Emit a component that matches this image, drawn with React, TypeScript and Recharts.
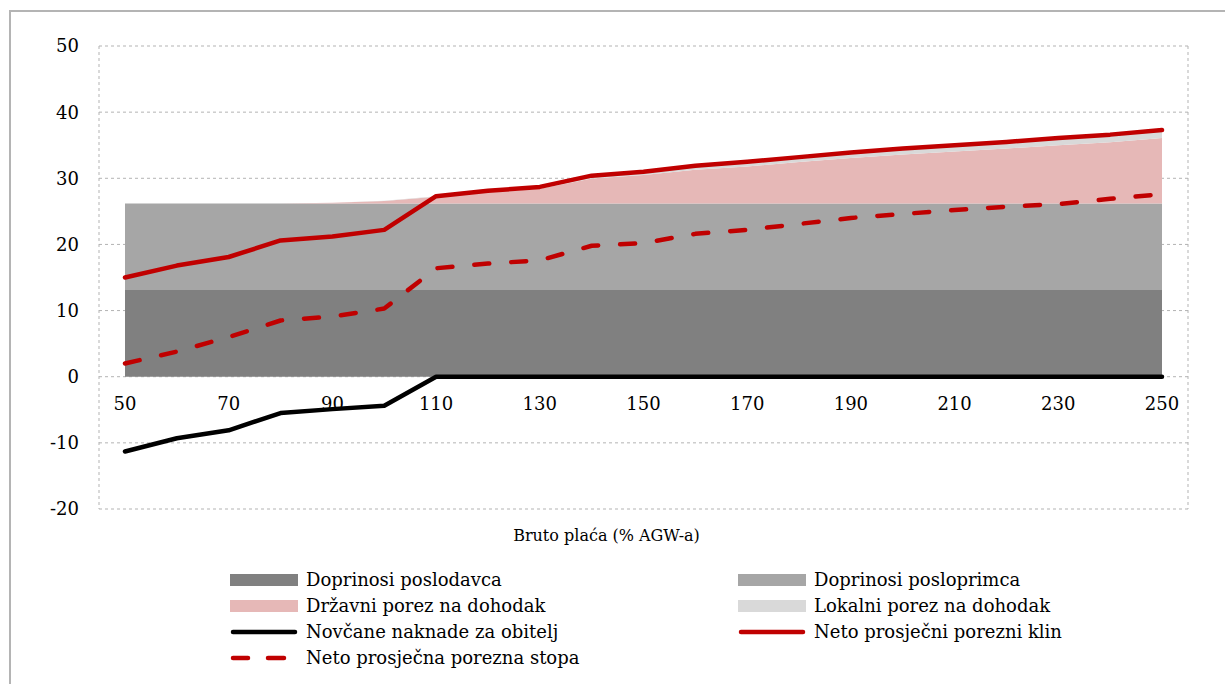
import React from 'react';
import {
  ComposedChart,
  Area,
  Line,
  XAxis,
  YAxis,
  CartesianGrid,
  Legend,
  ReferenceDot,
} from 'recharts';

// Bruto plaća (% AGW-a)
const grossWage = [50, 60, 70, 80, 90, 100, 110, 120, 130, 140, 150, 160, 170, 180, 190, 200, 210, 220, 230, 240, 250];
const employerContributions = [13.1, 13.1, 13.1, 13.1, 13.1, 13.1, 13.1, 13.1, 13.1, 13.1, 13.1, 13.1, 13.1, 13.1, 13.1, 13.1, 13.1, 13.1, 13.1, 13.1, 13.1];
const employeeContributions = [13.1, 13.1, 13.1, 13.1, 13.1, 13.1, 13.1, 13.1, 13.1, 13.1, 13.1, 13.1, 13.1, 13.1, 13.1, 13.1, 13.1, 13.1, 13.1, 13.1, 13.1];
const stateIncomeTax = [0, 0, 0, 0, 0.1, 0.35, 1.0, 1.7, 2.2, 3.75, 4.3, 5.1, 5.6, 6.25, 6.85, 7.4, 7.85, 8.3, 8.8, 9.25, 9.9];
const localIncomeTax = [0, 0, 0, 0, 0, 0.05, 0.1, 0.2, 0.3, 0.45, 0.5, 0.6, 0.7, 0.75, 0.85, 0.9, 0.95, 1.0, 1.1, 1.15, 1.2];
const familyBenefits = [-11.3, -9.3, -8.1, -5.5, -4.9, -4.4, 0, 0, 0, 0, 0, 0, 0, 0, 0, 0, 0, 0, 0, 0, 0];
const netTaxWedge = [15.0, 16.8, 18.1, 20.6, 21.2, 22.2, 27.3, 28.1, 28.7, 30.4, 31.0, 31.9, 32.5, 33.2, 33.9, 34.5, 35.0, 35.5, 36.1, 36.6, 37.3];
const netTaxRate = [2.0, 3.8, 6.0, 8.5, 9.1, 10.3, 16.4, 17.1, 17.6, 19.8, 20.2, 21.6, 22.2, 23.1, 24.0, 24.6, 25.2, 25.7, 26.1, 26.9, 27.6];

const xTickLabels = [50, 70, 90, 110, 130, 150, 170, 190, 210, 230, 250];
const yTicks = [-20, -10, 0, 10, 20, 30, 40, 50];
const xAxisTitle = 'Bruto plaća (% AGW-a)';

const FONT = '"DejaVu Serif", serif';
const RED = '#c00000';

const data = grossWage.map((w, i) => ({
  x: w,
  employer: employerContributions[i],
  employee: employeeContributions[i],
  stateTax: stateIncomeTax[i],
  localTax: localIncomeTax[i],
  benefits: familyBenefits[i],
  wedge: netTaxWedge[i],
  rate: netTaxRate[i],
}));

type LegendItem = { label: string; kind: 'area' | 'line' | 'dash'; color: string };
const legendItems: LegendItem[] = [
  { label: 'Doprinosi poslodavca', kind: 'area', color: '#808080' },
  { label: 'Doprinosi posloprimca', kind: 'area', color: '#a6a6a6' },
  { label: 'Državni porez na dohodak', kind: 'area', color: '#e6b8b7' },
  { label: 'Lokalni porez na dohodak', kind: 'area', color: '#d9d9d9' },
  { label: 'Novčane naknade za obitelj', kind: 'line', color: '#000000' },
  { label: 'Neto prosječni porezni klin', kind: 'line', color: RED },
  { label: 'Neto prosječna porezna stopa', kind: 'dash', color: RED },
];

const Swatch = ({ item }: { item: LegendItem }) => {
  if (item.kind === 'area') {
    return <div style={{ width: 68, height: 12, background: item.color, flex: 'none' }} />;
  }
  return (
    <svg width={68} height={12} style={{ flex: 'none', display: 'block' }}>
      {item.kind === 'line' ? (
        <line x1={3} y1={6} x2={65} y2={6} stroke={item.color} strokeWidth={4.5} strokeLinecap="round" />
      ) : (
        <>
          <line x1={3} y1={6} x2={18} y2={6} stroke={item.color} strokeWidth={4.5} strokeLinecap="round" />
          <line x1={38} y1={6} x2={54} y2={6} stroke={item.color} strokeWidth={4.5} strokeLinecap="round" />
        </>
      )}
    </svg>
  );
};

const CustomLegend = () => (
  <div
    style={{
      height: 123,
      boxSizing: 'border-box',
      paddingTop: 6,
      paddingLeft: 219,
      display: 'grid',
      gridTemplateColumns: '508px 480px',
      gridAutoRows: '26px',
      fontFamily: FONT,
      fontSize: 18,
      color: '#000',
    }}
  >
    {legendItems.map((it) => (
      <div key={it.label} style={{ display: 'flex', alignItems: 'center', height: 26, whiteSpace: 'nowrap' }}>
        <Swatch item={it} />
        <span style={{ marginLeft: 8, lineHeight: '26px' }}>{it.label}</span>
      </div>
    ))}
  </div>
);

export default function App() {
  return (
    <div
      style={{
        position: 'absolute',
        left: 9,
        top: 10,
        width: 1216,
        height: 674,
        borderLeft: '2px solid #b4b4b4',
        borderTop: '2px solid #b4b4b4',
        boxSizing: 'border-box',
        background: '#fff',
      }}
    >
      <ComposedChart
        width={1214}
        height={672}
        data={data}
        margin={{ top: 34, right: 37, bottom: 0, left: 28 }}
        style={{ fontFamily: FONT }}
      >
        <CartesianGrid
          stroke="#b3b3b3"
          strokeDasharray="3 3"
          verticalCoordinatesGenerator={({ offset }: any) => [offset.left, offset.left + offset.width]}
        />
        <XAxis
          dataKey="x"
          type="category"
          padding={{ left: 26, right: 26 }}
          tick={false}
          tickLine={false}
          axisLine={false}
          height={52}
          label={{
            value: xAxisTitle,
            position: 'center',
            dx: -37,
            style: { fontFamily: FONT, fontSize: 16, fill: '#000' },
          }}
        />
        <YAxis
          type="number"
          domain={[-20, 50]}
          ticks={yTicks}
          width={60}
          axisLine={false}
          tickLine={false}
          tickSize={0}
          tickMargin={20}
          tick={{ fontFamily: FONT, fontSize: 18, fill: '#000' }}
        />
        <Area type="linear" dataKey="employer" stackId="a" stroke="none" fill="#808080" fillOpacity={1} isAnimationActive={false} />
        <Area type="linear" dataKey="employee" stackId="a" stroke="none" fill="#a6a6a6" fillOpacity={1} isAnimationActive={false} />
        <Area type="linear" dataKey="stateTax" stackId="a" stroke="none" fill="#e6b8b7" fillOpacity={1} isAnimationActive={false} />
        <Area type="linear" dataKey="localTax" stackId="a" stroke="none" fill="#d9d9d9" fillOpacity={1} isAnimationActive={false} />
        <Line type="linear" dataKey="benefits" stroke="#000" strokeWidth={4.5} strokeLinejoin="round" strokeLinecap="round" dot={false} activeDot={false} isAnimationActive={false} />
        <Line type="linear" dataKey="rate" stroke={RED} strokeWidth={4.5} strokeDasharray="15 22" strokeLinejoin="round" strokeLinecap="round" dot={false} activeDot={false} isAnimationActive={false} />
        <Line type="linear" dataKey="wedge" stroke={RED} strokeWidth={4.5} strokeLinejoin="round" strokeLinecap="round" dot={false} activeDot={false} isAnimationActive={false} />
        {xTickLabels.map((v) => (
          <ReferenceDot
            key={v}
            x={v}
            y={0}
            r={0}
            fill="none"
            stroke="none"
            label={{ value: String(v), position: 'bottom', offset: 21, style: { fontFamily: FONT, fontSize: 18, fill: '#000' } }}
          />
        ))}
        <Legend verticalAlign="bottom" align="left" wrapperStyle={{ left: 0, width: 1214 }} content={() => <CustomLegend />} />
      </ComposedChart>
    </div>
  );
}
